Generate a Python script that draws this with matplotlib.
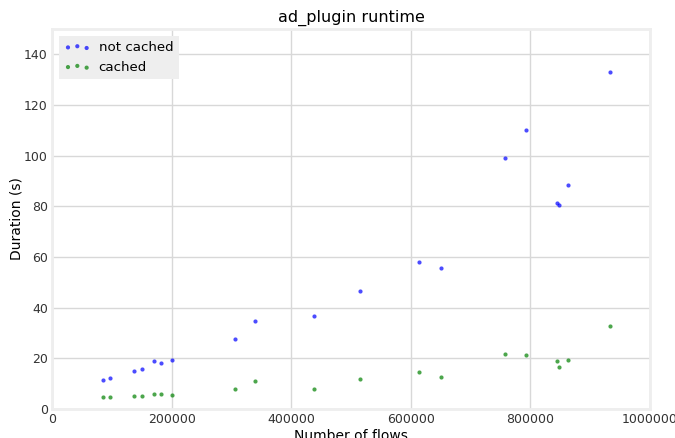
import matplotlib
matplotlib.use('Agg')
import matplotlib.pyplot as plt

# flow counts per run and measured plugin durations
flows = [86000, 97000, 136500, 150500, 171000, 182500, 201500, 306000, 340000,
         438500, 515000, 614000, 651000, 758000, 793000, 845000, 847000,
         863000, 933000]
not_cached = [11.3, 12.2, 15.0, 15.7, 18.8, 18.3, 19.5, 27.7, 34.6,
              36.8, 46.5, 58.1, 55.5, 98.9, 110.2, 81.2, 80.7,
              88.6, 132.9]
cached = [4.6, 4.7, 5.2, 5.2, 6.0, 5.8, 5.5, 8.0, 11.0,
          7.9, 11.7, 14.6, 12.5, 21.8, 21.4, 18.9, 16.6,
          19.3, 32.6]

fig = plt.figure(figsize=(6.75, 4.38), dpi=100)
ax = fig.add_axes([0.077, 0.066, 0.886, 0.868])

ax.scatter(flows, not_cached, s=9, color='b', alpha=0.7, linewidths=0, label='not cached')
ax.scatter(flows, cached, s=9, color='g', alpha=0.7, linewidths=0, label='cached')

ax.set_xlim(0, 1000000)
ax.set_ylim(0, 150)
ax.set_xticks([0, 200000, 400000, 600000, 800000, 1000000])
ax.set_yticks([0, 20, 40, 60, 80, 100, 120, 140])
ax.ticklabel_format(style='plain', axis='x')
ax.tick_params(length=0, labelsize=9, colors='#333333', pad=3)
ax.grid(True, color='#d8d8d8', linewidth=1)
ax.set_axisbelow(True)
for sp in ax.spines.values():
    sp.set_color('#eeeeee')
    sp.set_linewidth(2)

ax.set_title('ad_plugin runtime', fontsize=11.5, pad=5)
ax.set_xlabel('Number of flows', fontsize=10, labelpad=2)
ax.set_ylabel('Duration (s)', fontsize=10, labelpad=0)

leg = ax.legend(loc='upper left', scatterpoints=3, fontsize=9.6, frameon=True,
                fancybox=False, borderaxespad=0.5, handletextpad=0.6)
leg.get_frame().set_facecolor('#eeeeee')
leg.get_frame().set_edgecolor('none')
leg.get_frame().set_alpha(1)

fig.savefig('out.png', dpi=100)
